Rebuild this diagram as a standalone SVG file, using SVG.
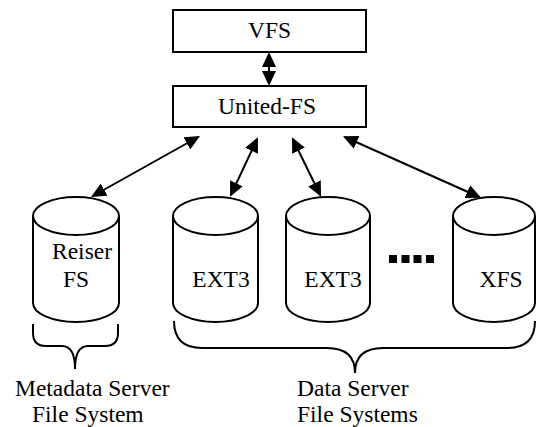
<svg xmlns="http://www.w3.org/2000/svg" width="536" height="427" viewBox="0 0 536 427">
<style>
.box{fill:#fff;stroke:#000;stroke-width:2}
.cyl{fill:#fff;stroke:#000;stroke-width:2}
.lbl{font-family:"Liberation Serif","Times New Roman",serif;font-size:23.5px;fill:#000}
.mid{text-anchor:middle}
.con{stroke:#000;stroke-width:2;fill:none;marker-start:url(#ah);marker-end:url(#ah)}
.brace{stroke:#000;stroke-width:2;fill:none}
</style>
<defs>
<marker id="ah" markerUnits="userSpaceOnUse" markerWidth="16" markerHeight="14" refX="13" refY="7" orient="auto-start-reverse" viewBox="0 0 16 14">
<path d="M0,0 L15,7 L0,14 Z" fill="#000"/>
</marker>
</defs>
<rect width="536" height="427" fill="#fff"/>

<g id="vfs">
<rect class="box" x="173" y="10" width="193" height="42"/>
<text class="lbl mid" x="269.5" y="38">VFS</text>
</g>
<g id="united-fs">
<rect class="box" x="173" y="86" width="193" height="41"/>
<text class="lbl mid" x="267" y="114">United-FS</text>
</g>

<g id="reiserfs">
<path class="cyl" d="M33,216 L33,303 A43,19 0 0 0 119,303 L119,216"/>
<ellipse class="cyl" cx="76" cy="216" rx="43" ry="19"/>
<text class="lbl" x="52" y="259">Reiser</text>
<text class="lbl" x="63" y="287">FS</text>
</g>
<g id="ext3-1">
<path class="cyl" d="M173,216 L173,303 A42.5,19 0 0 0 258,303 L258,216"/>
<ellipse class="cyl" cx="215.5" cy="216" rx="42.5" ry="19"/>
<text class="lbl mid" x="221" y="287">EXT3</text>
</g>
<g id="ext3-2">
<path class="cyl" d="M286,216 L286,303 A42,19 0 0 0 370,303 L370,216"/>
<ellipse class="cyl" cx="328" cy="216" rx="42" ry="19"/>
<text class="lbl mid" x="333" y="287">EXT3</text>
</g>
<g id="dots">
<rect x="389" y="255" width="8" height="8" fill="#000"/>
<rect x="401.5" y="255" width="8" height="8" fill="#000"/>
<rect x="413.5" y="255" width="8" height="8" fill="#000"/>
<rect x="426" y="255" width="8" height="8" fill="#000"/>
</g>
<g id="xfs">
<path class="cyl" d="M453,216 L453,303 A41,19 0 0 0 535,303 L535,216"/>
<ellipse class="cyl" cx="494" cy="216" rx="41" ry="19"/>
<text class="lbl mid" x="501" y="287">XFS</text>
</g>

<g id="connectors">
<line class="con" x1="269" y1="54" x2="269" y2="84"/>
<line class="con" x1="198.2" y1="137" x2="92.8" y2="196"/>
<line class="con" x1="257.1" y1="139" x2="230.9" y2="195"/>
<line class="con" x1="292.8" y1="139" x2="320.2" y2="195"/>
<line class="con" x1="344.8" y1="137" x2="479.2" y2="197"/>
</g>

<g id="metadata-brace">
<path class="brace" d="M33,324 L33,333 Q33,346 46,346 L62,346 Q75,346 75,369 Q75,346 88,346 L105,346 Q118,346 118,333 L118,324"/>
<text class="lbl" x="15" y="396">Metadata Server</text>
<text class="lbl" x="32" y="422">File System</text>
</g>
<g id="data-brace">
<path class="brace" d="M174,321 Q174,348 202,348 L327,348 Q355,348 355,373 Q355,348 383,348 L507,348 Q535,348 535,321"/>
<text class="lbl" x="297" y="396">Data Server</text>
<text class="lbl" x="297" y="422">File Systems</text>
</g>
</svg>
